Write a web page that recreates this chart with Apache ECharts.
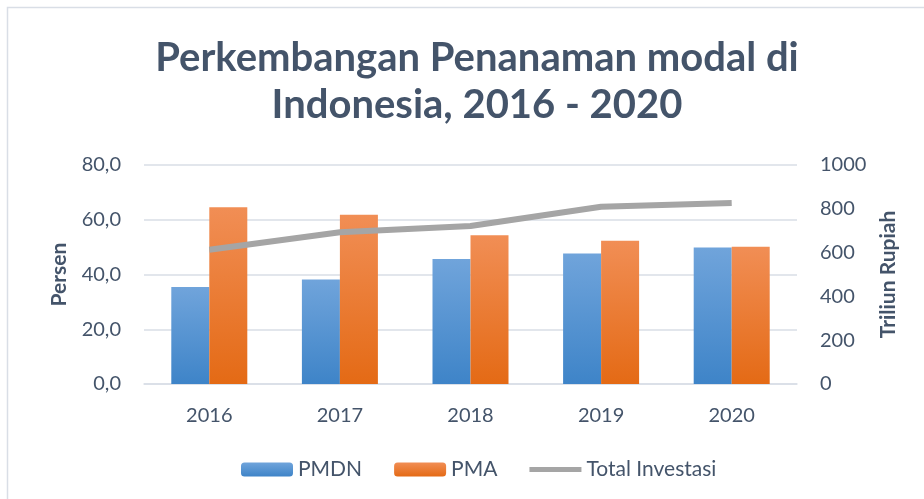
<!DOCTYPE html>
<html>
<head>
<meta charset="utf-8">
<script src="https://cdn.jsdelivr.net/npm/echarts@6/dist/echarts.min.js"></script>
<style>
  html, body { margin: 0; padding: 0; background: #fff; }
  #chart { width: 924px; height: 499px; }
</style>
</head>
<body>
<div id="chart"></div>
<script>
const years = ["2016", "2017", "2018", "2019", "2020"];
const pmdn = [35.4, 38.2, 45.7, 47.7, 49.9];
const pma = [64.6, 61.8, 54.3, 52.3, 50.1];
const totalInvestasi = [612.8, 692.8, 721.3, 809.6, 826.3];

const textColor = "#44546A";
const font = "Lato";

const chart = echarts.init(document.getElementById("chart"));

function grad(top, bottom) {
  return new echarts.graphic.LinearGradient(0, 0, 0, 1, [
    { offset: 0, color: top },
    { offset: 1, color: bottom },
  ]);
}

const option = {
  backgroundColor: "#fff",
  textStyle: { fontFamily: font },
  graphic: [
    {
      type: "rect",
      shape: { x: 7.5, y: 7.5, width: 940, height: 520 },
      style: { fill: "none", stroke: "#D9DEE6", lineWidth: 1.5 },
      silent: true,
    },
  ],
  title: {
    text: "Perkembangan Penanaman modal di\nIndonesia, 2016 - 2020",
    left: 472,
    textAlign: "center",
    top: 30,
    textStyle: {
      fontFamily: font,
      fontWeight: "bold",
      fontSize: 40,
      lineHeight: 47,
      color: textColor,
    },
  },
  legend: {
    bottom: 14,
    left: 236,
    itemWidth: 52,
    itemHeight: 14,
    itemGap: 32,
    textStyle: { fontFamily: font, fontSize: 21, color: textColor },
    data: [
      { name: "PMDN" },
      { name: "PMA" },
      { name: "Total Investasi", icon: "path://M0,0 L52,0 L52,5 L0,5 Z" },
    ],
  },
  grid: {
    left: 144,
    right: 127,
    top: 165,
    bottom: 115,
  },
  xAxis: {
    type: "category",
    data: years,
    axisLine: { lineStyle: { color: "#D9DEE6", width: 1.5 } },
    axisTick: { show: false },
    axisLabel: { fontSize: 20, color: textColor, margin: 22 },
  },
  yAxis: [
    {
      type: "value",
      min: 0,
      max: 80,
      interval: 20,
      name: "Persen",
      nameLocation: "middle",
      nameGap: 74,
      nameTextStyle: { fontFamily: font, fontSize: 21, fontWeight: "bold", color: textColor },
      axisLabel: {
        fontSize: 20,
        color: textColor,
        margin: 23,
        formatter: (v) => v.toFixed(1).replace(".", ","),
      },
      splitLine: { lineStyle: { color: "#D9DEE6", width: 1.5 } },
    },
    {
      type: "value",
      min: 0,
      max: 1000,
      interval: 200,
      name: "Triliun Rupiah",
      nameLocation: "middle",
      nameGap: 81,
      nameRotate: 90,
      nameTextStyle: { fontFamily: font, fontSize: 21, fontWeight: "bold", color: textColor },
      axisLabel: {
        fontSize: 20,
        color: textColor,
        margin: 23,
        formatter: (v) => String(v),
      },
      splitLine: { show: false },
    },
  ],
  series: [
    {
      name: "PMDN",
      type: "bar",
      data: pmdn,
      barWidth: 38,
      barGap: "0%",
      itemStyle: { color: grad("#70A4DB", "#3E84C8") },
    },
    {
      name: "PMA",
      type: "bar",
      data: pma,
      barWidth: 38,
      itemStyle: { color: grad("#F18E55", "#E46A15") },
    },
    {
      name: "Total Investasi",
      type: "line",
      yAxisIndex: 1,
      data: totalInvestasi,
      symbol: "none",
      lineStyle: { color: "#A5A5A5", width: 6 },
      itemStyle: { color: "#A5A5A5" },
    },
  ],
};

chart.setOption(option);
</script>
</body>
</html>
